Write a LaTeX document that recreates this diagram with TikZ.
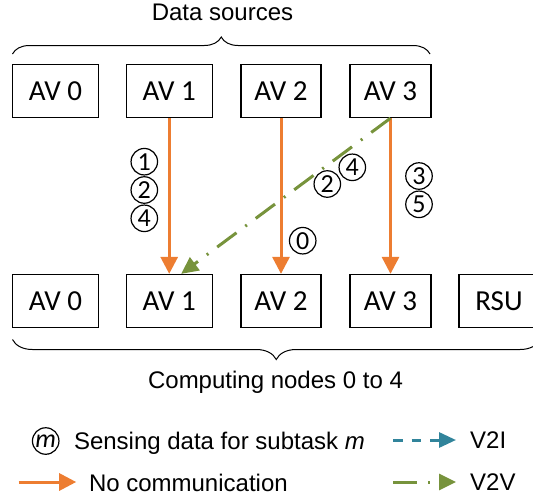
\documentclass[tikz,border=0pt]{standalone}
\usepackage{fontspec}
\setmainfont{Liberation Sans}
\newfontfamily\calibfont{Carlito}
\usepackage{tikz}
\usetikzlibrary{arrows.meta,decorations.pathreplacing}
\definecolor{linkorange}{HTML}{ED7D31}
\definecolor{linkgreen}{HTML}{77933C}
\definecolor{linkteal}{HTML}{31849B}
\tikzset{
  avbox/.style={draw=black,line width=1.3pt,minimum height=53pt,inner sep=0pt,font=\calibfont\fontsize{29}{30}\selectfont},
  tasknum/.style={circle,draw=black,line width=1.2pt,minimum size=26.5pt,inner sep=0pt,font=\calibfont\fontsize{26}{26}\selectfont},
  txt/.style={font=\fontsize{24}{26}\selectfont,inner sep=0pt},
  nocomm/.style={linkorange,line width=3pt,-{Triangle[length=17pt,width=17pt]}},
  vtov/.style={linkgreen,line width=3pt,dash pattern=on 24pt off 11pt on 2pt off 11pt,-{Triangle[length=17pt,width=16pt]}},
  vtoi/.style={linkteal,line width=3pt,dash pattern=on 9.5pt off 9pt,-{Triangle[length=17pt,width=15pt]}},
  bracket/.style={decorate,line width=1pt}
}

\begin{document}
\begin{tikzpicture}[x=1pt,y=-1pt]
\useasboundingbox (0,0) rectangle (533,499);
% data sources
\node (s0) [avbox,minimum width=86pt] at (55.5,91) {AV 0};
\node (s1) [avbox,minimum width=86pt] at (169.2,91) {AV 1};
\node (s2) [avbox,minimum width=80pt] at (281,91) {AV 2};
\node (s3) [avbox,minimum width=81pt] at (390.5,91) {AV 3};
% computing nodes
\node (d0) [avbox,minimum width=86pt] at (55.5,301) {AV 0};
\node (d1) [avbox,minimum width=86pt] at (169.2,301) {AV 1};
\node (d2) [avbox,minimum width=80pt] at (281,301) {AV 2};
\node (d3) [avbox,minimum width=81pt] at (390.5,301) {AV 3};
\node (d4) [avbox,minimum width=80pt] at (499,301) {RSU};
%
\draw[bracket,decoration={brace,amplitude=17pt}] (12.5,54) -- (430,54);
\draw[bracket,decoration={brace,amplitude=20pt,mirror}] (12.5,339.5) -- (540,339.5);
\node (srctitle) [txt,anchor=base] at (222.5,20.7) {Data sources};
\node (cntitle) [txt,anchor=base] at (275.5,388.3) {Computing nodes 0 to 4};
%
\path
(s1) edge [nocomm] (d1)
(s2) edge [nocomm] (d2)
(s3) edge [nocomm] (d3)
(s3.south) edge [vtov] ([xshift=12pt]d1.north)
;
\node (t11) [tasknum] at (144.3,161.7) {1};
\node (t12) [tasknum] at (144.3,190) {2};
\node (t14) [tasknum] at (144.3,218.3) {4};
\node (t20) [tasknum] at (302.7,240.7) {0};
\node (t32) [tasknum] at (327.3,184) {2};
\node (t34) [tasknum] at (352.3,167.3) {4};
\node (t33) [tasknum] at (419,176) {3};
\node (t35) [tasknum] at (419,204.3) {5};
% legend
\node (mkey) [tasknum] at (45.7,441) {\textit{m}};
\node (mtext) [txt,anchor=base west] at (73.8,449.5) {Sensing data for subtask \textit{m}};
\coordinate (oa) at (18.6,482);
\coordinate (ob) at (76.2,482);
\node (otext) [txt,anchor=base west] at (88.8,491.5) {No communication};
\coordinate (ia) at (393,440);
\coordinate (ib) at (456,440);
\node (itext) [txt,anchor=base west] at (470,448.8) {V2I};
\coordinate (va) at (393,482);
\coordinate (vb) at (456,482);
\node (vtext) [txt,anchor=base west] at (470,490.8) {V2V};
\path
(oa) edge [nocomm] (ob)
(ia) edge [vtoi] (ib)
(va) edge [vtov] (vb)
;
\end{tikzpicture}
\end{document}
